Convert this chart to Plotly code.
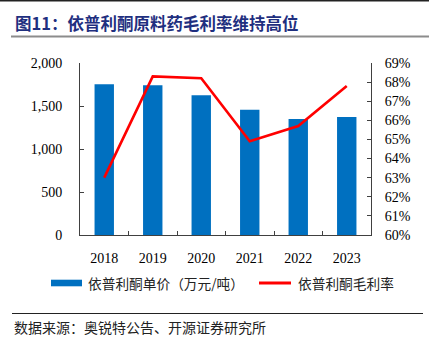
import plotly.graph_objects as go

years = ["2018", "2019", "2020", "2021", "2022", "2023"]
price = [1752, 1740, 1624, 1457, 1349, 1372]
margin_rate = [0.630, 0.683, 0.682, 0.649, 0.657, 0.678]

title_text = "图11：依普利酮原料药毛利率维持高位"
bar_name = "依普利酮单价（万元/吨）"
line_name = "依普利酮毛利率"
source_text = "数据来源：奥锐特公告、开源证券研究所"

W, H = 429, 343
L, R, T, B = 80, 371, 63, 235


def px(x):
    return (x - L) / (R - L)


def py(y):
    return (B - y) / (B - T)


serif = "Liberation Serif, Times New Roman, serif"
cjk = "Noto Sans CJK SC, sans-serif"

fig = go.Figure()
fig.add_trace(go.Bar(x=years, y=price, name=bar_name, marker_color="#0070C0",
                     marker_line_width=0, showlegend=False))
fig.add_trace(go.Scatter(x=years, y=margin_rate, name=line_name, yaxis="y2",
                         mode="lines", line=dict(color="#FF0000", width=2.6),
                         showlegend=False))

axis_col = "#404040"
fig.update_layout(
    width=W, height=H,
    margin=dict(l=L, r=W - R, t=T, b=H - B, pad=0),
    paper_bgcolor="white", plot_bgcolor="white",
    bargap=0.6,
    xaxis=dict(type="category", showgrid=False, showline=True, linecolor=axis_col,
               linewidth=1, ticks="inside", ticklen=4, tickcolor=axis_col,
               tickson="boundaries", ticklabelstandoff=10,
               tickfont=dict(family=serif, size=14, color="black")),
    yaxis=dict(range=[0, 2000], dtick=500, tickformat=",", showgrid=False,
               showline=True, linecolor=axis_col, linewidth=1, ticks="inside",
               ticklen=4, tickcolor=axis_col, ticklabelstandoff=14, zeroline=False,
               tickfont=dict(family=serif, size=14, color="black")),
    yaxis2=dict(range=[0.60, 0.69], dtick=0.01, tickformat=".0%", overlaying="y",
                side="right", showgrid=False, showline=True, linecolor=axis_col,
                linewidth=1, ticks="inside", ticklen=4, tickcolor=axis_col,
                ticklabelstandoff=10, zeroline=False,
                tickfont=dict(family=serif, size=14, color="black")),
)

shapes = [
    dict(type="rect", xref="paper", yref="paper", x0=px(0), x1=px(W), y0=py(1.6), y1=py(0),
         fillcolor="#222222", line_width=0),
    dict(type="rect", xref="paper", yref="paper", x0=px(11), x1=px(W), y0=py(37.5), y1=py(35.5),
         fillcolor="#8C8C8C", line_width=0),
    dict(type="line", xref="paper", yref="paper", x0=px(12), x1=px(423), y0=py(313.5), y1=py(313.5),
         line=dict(color="#222222", width=1)),
    dict(type="rect", xref="paper", yref="paper", x0=px(51), x1=px(82), y0=py(286.3), y1=py(279.7),
         fillcolor="#0070C0", line_width=0),
    dict(type="line", xref="paper", yref="paper", x0=px(259), x1=px(291), y0=py(283), y1=py(283),
         line=dict(color="#FF0000", width=3)),
]
fig.update_layout(shapes=shapes)

annots = [
    dict(text="<b>" + title_text + "</b>", x=px(13), y=py(22.5), xanchor="left", yanchor="middle",
         font=dict(family=cjk, size=16.5, color="#1F2F7F")),
    dict(text=bar_name, x=px(86), y=py(283), xanchor="left", yanchor="middle",
         font=dict(family=cjk, size=13.7, color="#222222")),
    dict(text=line_name, x=px(296), y=py(283), xanchor="left", yanchor="middle",
         font=dict(family=cjk, size=13.7, color="#222222")),
    dict(text=source_text, x=px(12), y=py(327), xanchor="left", yanchor="middle",
         font=dict(family=cjk, size=14, color="#222222")),
]
for a in annots:
    a.update(xref="paper", yref="paper", showarrow=False)
fig.update_layout(annotations=annots)

fig.write_html("out.html")
